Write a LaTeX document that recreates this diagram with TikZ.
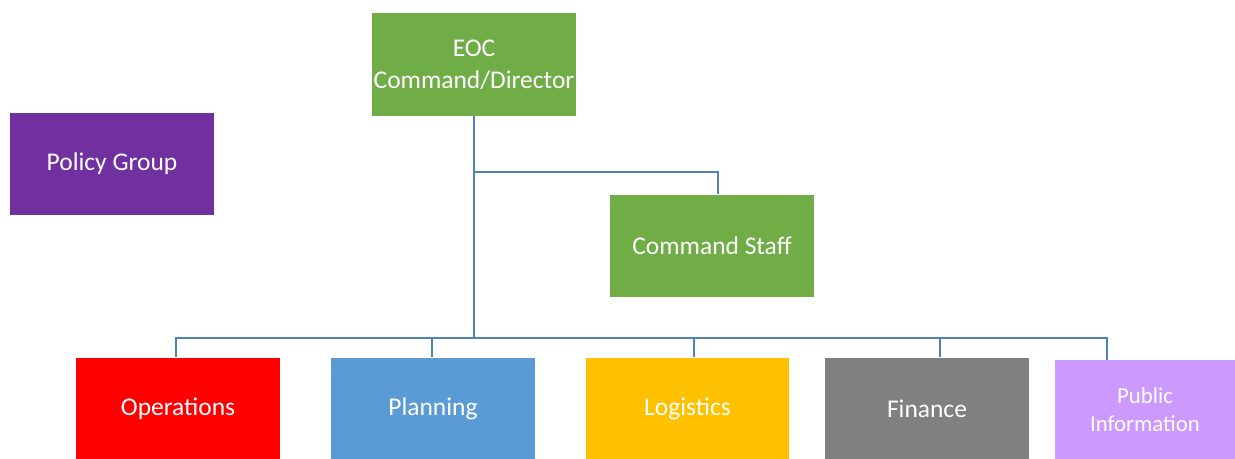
\documentclass[tikz,border=0pt]{standalone}
\usepackage{fontspec}
\setmainfont{Carlito}
\usepackage{tikz}
\tikzset{x=0.02cm, y=-0.02cm,
  orgunit/.style={rectangle, draw=none, text=white, align=center, inner sep=0pt,
    minimum width=4.08cm, minimum height=2.06cm,
    font=\fontsize{14.5}{18}\selectfont},
  conn/.style={draw=linkblue, line width=1.6pt}}
\usetikzlibrary{calc}
\newcommand{\orgbox}[3]{node[orgunit, fill=#3](#1) {#2}}
\definecolor{linkblue}{HTML}{4F81BD}
\definecolor{eocgreen}{HTML}{70AD47}
\definecolor{policypurple}{HTML}{7030A0}
\definecolor{opsred}{HTML}{FF0000}
\definecolor{planblue}{HTML}{5B9BD5}
\definecolor{logiyellow}{HTML}{FFC000}
\definecolor{fingrey}{HTML}{808080}
\definecolor{pubviolet}{HTML}{CC99FF}

\begin{document}
\begin{tikzpicture}
\fill[white] (0,0) rectangle (1235,459);
\useasboundingbox (0,0) rectangle (1235,459);
% top of the chart
\draw (474,64.5) \orgbox{eoc}{EOC\\Command/Director}{eocgreen} ;
\draw (112,164) \orgbox{policy}{Policy Group}{policypurple} ;
\draw (712,246) \orgbox{cstaff}{Command Staff}{eocgreen} ;
% sections
\draw (178,409) \orgbox{ops}{Operations}{opsred} ;
  \draw (433,409) \orgbox{plan}{Planning}{planblue} ;
    \draw (687.5,409) \orgbox{logi}{Logistics}{logiyellow} ;
      \draw (927,409) \orgbox{fin}{Finance}{fingrey} ;
        \draw (1145,410) node[orgunit, fill=pubviolet, minimum width=3.6cm, minimum height=2cm,
          font=\fontsize{13}{16}\selectfont](pubinfo) {Public\\Information} ;
\coordinate (staffjoint) at (474,172) ;
\coordinate (bus) at (474,338) ;
\draw[conn] (eoc.south) -- (bus) ;
\draw[conn] (staffjoint) -| ($(cstaff.north)+(6,0)$) ;
\foreach \n/\dx in {ops/-2, plan/-1, logi/6.5, fin/13, pubinfo/-38}
  \draw[conn] (bus) -| ($(\n.north)+(\dx,0)$) ;
\end{tikzpicture}
\end{document}
